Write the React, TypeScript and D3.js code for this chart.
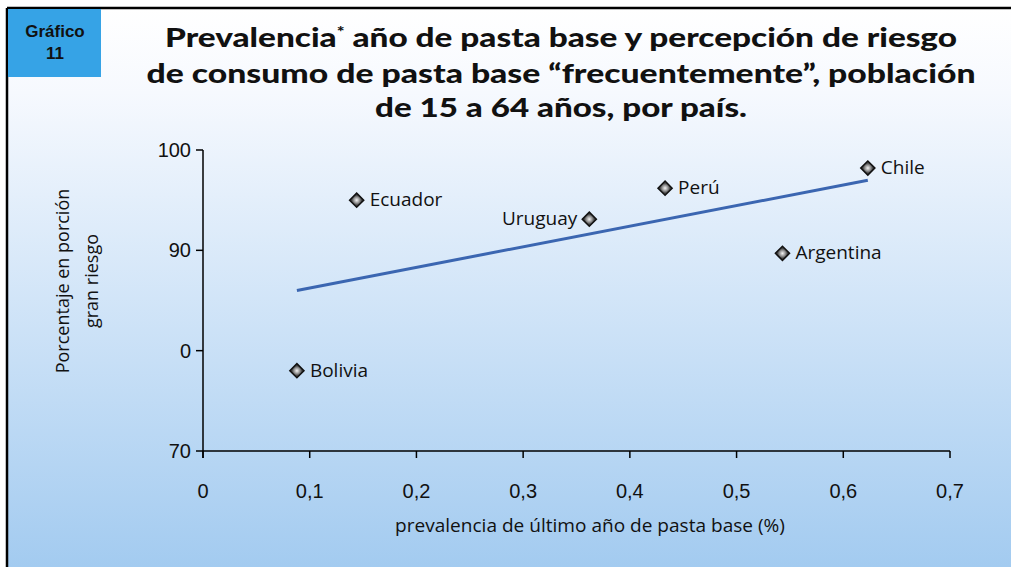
import React from "react";
import * as d3 from "d3";

const countries = ["Bolivia", "Ecuador", "Uruguay", "Perú", "Chile", "Argentina"];
const prevalence = [0.088, 0.144, 0.362, 0.433, 0.623, 0.543];
const riskPct = [78.0, 95.0, 93.1, 96.2, 98.2, 89.7];
const labelSide = ["right", "right", "left", "right", "right", "right"];
const xTicks = [0, 0.1, 0.2, 0.3, 0.4, 0.5, 0.6, 0.7];
const yTicks = [70, 80, 90, 100];
const yTickLabels = ["70", "0", "90", "100"];
const titleLines = [
  "Prevalencia* año de pasta base y percepción de riesgo",
  "de consumo de pasta base “frecuentemente”, población",
  "de 15 a 64 años, por país.",
];
const yTitleLines = ["Porcentaje en porción", "gran riesgo"];
const xTitle = "prevalencia de último año de pasta base (%)";

const W = 1011;
const H = 567;

export default function App() {
  const x = d3.scaleLinear().domain([0, 0.7]).range([203, 950]);
  const y = d3.scaleLinear().domain([70, 100]).range([451, 150]);

  // linear regression trend line
  const mx = d3.mean(prevalence)!;
  const my = d3.mean(riskPct)!;
  let sxy = 0, sxx = 0;
  prevalence.forEach((v, i) => {
    sxy += (v - mx) * (riskPct[i] - my);
    sxx += (v - mx) * (v - mx);
  });
  const slope = sxy / sxx;
  const icpt = my - slope * mx;
  const xmin = d3.min(prevalence)!;
  const xmax = d3.max(prevalence)!;
  const trend: [number, number][] = [
    [xmin, icpt + slope * xmin],
    [xmax, icpt + slope * xmax],
  ];
  const line = d3.line<[number, number]>().x((d) => x(d[0])).y((d) => y(d[1]));
  const diamond = d3.symbol(d3.symbolSquare, 100)()!;

  const titleY = [47, 83, 117];
  const titleLen = [792, 829, 372];
  const labelFont = "'Open Sans', 'Lato', sans-serif";

  return (
    <svg
      width={W}
      height={H}
      style={{ position: "absolute", left: 0, top: 0 }}
      xmlns="http://www.w3.org/2000/svg"
    >
      <defs>
        <linearGradient id="bg" x1="0" y1="0" x2="0" y2="1">
          <stop offset="0" stopColor="#ffffff" />
          <stop offset="0.15" stopColor="#f6f9fe" />
          <stop offset="1" stopColor="#a3cbf0" />
        </linearGradient>
        <radialGradient id="mk" cx="0.5" cy="0.5" r="0.5">
          <stop offset="0" stopColor="#f4f4f4" />
          <stop offset="0.55" stopColor="#999" />
          <stop offset="1" stopColor="#404040" />
        </radialGradient>
      </defs>
      <rect x={0} y={0} width={W} height={H} fill="#ffffff" />
      <rect x={7} y={9} width={W - 7} height={H - 9} fill="url(#bg)" />
      <line x1={7} y1={8} x2={W} y2={8} stroke="#000" strokeWidth={2.5} />
      <line x1={7} y1={8} x2={7} y2={H} stroke="#000" strokeWidth={2.5} />

      <rect x={8} y={9} width={93} height={68} fill="#36a3e6" />
      <text x={55} y={37} textAnchor="middle" fontFamily="'Liberation Sans', Arial, sans-serif" fontWeight="bold" fontSize={17} fill="#111">Gráfico</text>
      <text x={55} y={59} textAnchor="middle" fontFamily="'Liberation Sans', Arial, sans-serif" fontWeight="bold" fontSize={17} fill="#111">11</text>

      {titleLines.map((t, i) => (
        <text
          key={i}
          x={561}
          y={titleY[i]}
          textAnchor="middle"
          fontFamily="'Lato', sans-serif"
          fontWeight={900}
          fontSize={27}
          fill="#111"
          textLength={titleLen[i]}
          lengthAdjust="spacingAndGlyphs"
        >
          {i === 0 ? (
            <>
              Prevalencia<tspan fontSize={15} dy={-10}>*</tspan>
              <tspan dy={10}> año de pasta base y percepción de riesgo</tspan>
            </>
          ) : (
            t
          )}
        </text>
      ))}

      {/* axes */}
      <line x1={x(0)} y1={y(100)} x2={x(0)} y2={y(70) + 7} stroke="#000" strokeWidth={1.5} />
      <line x1={x(0)} y1={y(70)} x2={x(0.7)} y2={y(70)} stroke="#000" strokeWidth={1.5} />
      {yTicks.map((t, i) => (
        <g key={t}>
          <line x1={x(0) - 7} x2={x(0)} y1={y(t)} y2={y(t)} stroke="#000" strokeWidth={1.5} />
          <text x={x(0) - 12} y={y(t) + 7} textAnchor="end" fontFamily="'Liberation Sans', Arial, sans-serif" fontSize={20} fill="#111">
            {yTickLabels[i]}
          </text>
        </g>
      ))}
      {xTicks.map((t) => (
        <g key={t}>
          <line x1={x(t)} x2={x(t)} y1={y(70)} y2={y(70) + 7} stroke="#000" strokeWidth={1.5} />
          <text x={x(t)} y={498} textAnchor="middle" fontFamily="'Liberation Sans', Arial, sans-serif" fontSize={20} fill="#111">
            {String(t).replace(".", ",")}
          </text>
        </g>
      ))}

      <text x={590} y={532} textAnchor="middle" fontFamily={labelFont} fontSize={18} fill="#111" textLength={390} lengthAdjust="spacingAndGlyphs">
        {xTitle}
      </text>
      {yTitleLines.map((t, i) => (
        <text
          key={i}
          transform={`translate(${69 + i * 29},281) rotate(-90)`}
          textAnchor="middle"
          fontFamily={labelFont}
          fontSize={18}
          fill="#111"
        >
          {t}
        </text>
      ))}

      <path d={line(trend)!} fill="none" stroke="#3b66b1" strokeWidth={3} />

      {countries.map((c, i) => {
        const px = x(prevalence[i]);
        const py = y(riskPct[i]);
        const left = labelSide[i] === "left";
        return (
          <g key={c}>
            <path
              d={diamond}
              transform={`translate(${px},${py}) rotate(45)`}
              fill="url(#mk)"
              stroke="#111"
              strokeWidth={1.5}
            />
            <text
              x={left ? px - 12 : px + 13}
              y={py + 6}
              textAnchor={left ? "end" : "start"}
              fontFamily={labelFont}
              fontSize={19}
              fill="#111"
            >
              {c}
            </text>
          </g>
        );
      })}
    </svg>
  );
}
